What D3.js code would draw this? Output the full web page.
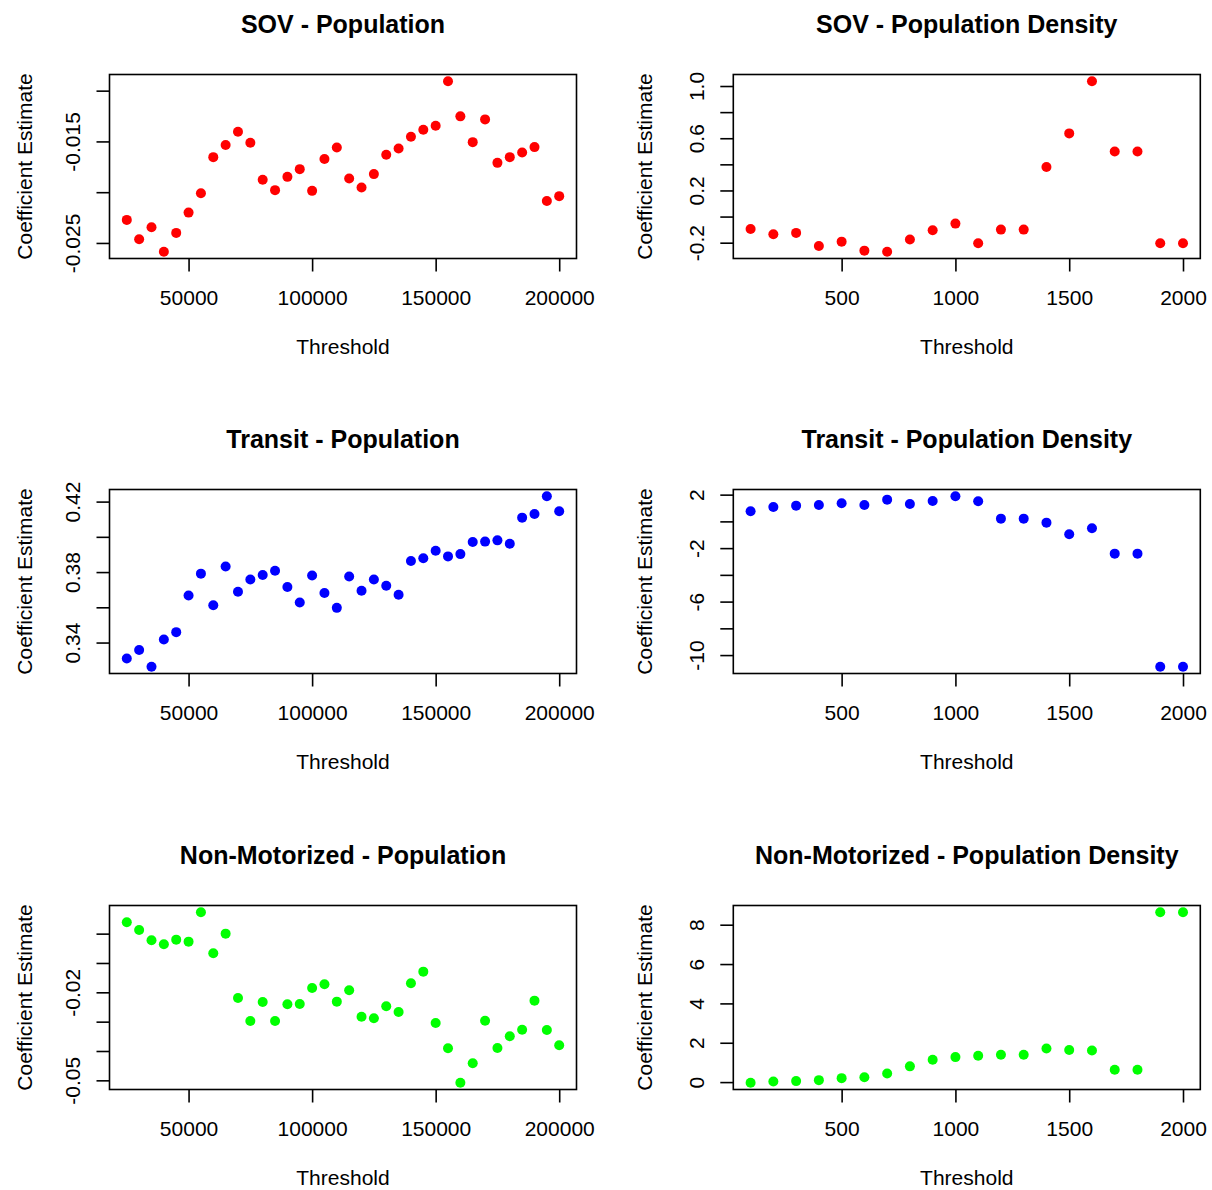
<!DOCTYPE html>
<html>
<head>
<meta charset="utf-8">
<script src="https://cdn.jsdelivr.net/npm/d3@7"></script>
<style>
  body { margin: 0; background: #fff; }
  text { font-family: "Liberation Sans", Arial, sans-serif; fill: #000; }
</style>
</head>
<body>
<svg id="chart" width="1212" height="1190"></svg>
<script>
// thresholds
const popThreshold = [25000, 30000, 35000, 40000, 45000, 50000, 55000, 60000, 65000, 70000,
  75000, 80000, 85000, 90000, 95000, 100000, 105000, 110000, 115000, 120000,
  125000, 130000, 135000, 140000, 145000, 150000, 155000, 160000, 165000, 170000,
  175000, 180000, 185000, 190000, 195000, 200000];
const densThreshold = [100, 200, 300, 400, 500, 600, 700, 800, 900, 1000,
  1100, 1200, 1300, 1400, 1500, 1600, 1700, 1800, 1900, 2000];
const popTicks = [50000, 100000, 150000, 200000];
const densTicks = [500, 1000, 1500, 2000];

// coefficient estimates
const sovPop = [-0.02273, -0.02464, -0.02345, -0.02586, -0.02401, -0.02201, -0.02010, -0.01655,
  -0.01536, -0.01405, -0.01513, -0.01878, -0.01980, -0.01849, -0.01773, -0.01987, -0.01674,
  -0.01559, -0.01865, -0.01954, -0.01822, -0.01632, -0.01569, -0.01454, -0.01385, -0.01345,
  -0.00908, -0.01253, -0.01507, -0.01283, -0.01711, -0.01655, -0.01609, -0.01556, -0.02086, -0.02039];
const sovDens = [-0.095, -0.136, -0.125, -0.225, -0.192, -0.261, -0.269, -0.176, -0.105, -0.054,
  -0.205, -0.100, -0.100, 0.379, 0.637, 1.036, 0.499, 0.499, -0.205, -0.205];
const transitPop = [0.3309, 0.3358, 0.3263, 0.3417, 0.3459, 0.3667, 0.3791, 0.3612, 0.3832, 0.3688,
  0.3758, 0.3783, 0.3808, 0.3715, 0.3627, 0.3781, 0.3681, 0.3597, 0.3775, 0.3694, 0.3758, 0.3722,
  0.3671, 0.3863, 0.3878, 0.3921, 0.3889, 0.3902, 0.3971, 0.3973, 0.3980, 0.3961, 0.4109, 0.4130,
  0.4230, 0.4145];
const transitDens = [0.753, 1.077, 1.177, 1.227, 1.352, 1.227, 1.626, 1.302, 1.526, 1.875, 1.501,
  0.204, 0.204, -0.095, -0.968, -0.519, -2.414, -2.414, -10.868, -10.868];
const nonmotPop = [0.00386, 0.00125, -0.00227, -0.00364, -0.00205, -0.00273, 0.00727, -0.00670,
  0.0000, -0.02193, -0.02977, -0.02330, -0.02977, -0.02409, -0.02398, -0.01852, -0.01727, -0.02318,
  -0.01932, -0.02830, -0.02886, -0.02477, -0.02670, -0.01693, -0.01295, -0.03045, -0.03909, -0.05080,
  -0.04420, -0.02966, -0.03898, -0.03500, -0.03273, -0.02284, -0.03284, -0.03807];
const nonmotDens = [-0.03, 0.03, 0.05, 0.10, 0.20, 0.25, 0.44, 0.80, 1.14, 1.27, 1.34, 1.39, 1.39,
  1.71, 1.63, 1.61, 0.63, 0.63, 8.63, 8.63];

// y ticks; blank label = tick drawn but label dropped (as in the original)
const sovPopTicks = [-0.025, -0.020, -0.015, -0.010];
const sovPopLabels = ["-0.025", "", "-0.015", ""];
const sovDensTicks = [-0.2, 0, 0.2, 0.4, 0.6, 0.8, 1.0];
const sovDensLabels = ["-0.2", "", "0.2", "", "0.6", "", "1.0"];
const transitPopTicks = [0.34, 0.36, 0.38, 0.40, 0.42];
const transitPopLabels = ["0.34", "", "0.38", "", "0.42"];
const transitDensTicks = [-10, -8, -6, -4, -2, 0, 2];
const transitDensLabels = ["-10", "", "-6", "", "-2", "", "2"];
const nonmotPopTicks = [-0.05, -0.04, -0.03, -0.02, -0.01, 0];
const nonmotPopLabels = ["-0.05", "", "", "-0.02", "", ""];
const nonmotDensTicks = [0, 2, 4, 6, 8];
const nonmotDensLabels = ["0", "2", "4", "6", "8"];

const panels = [
  { title: "SOV - Population", xs: popThreshold, ys: sovPop, xt: popTicks, yt: sovPopTicks, yl: sovPopLabels, color: "#ff0000", row: 0, col: 0 },
  { title: "SOV - Population Density", xs: densThreshold, ys: sovDens, xt: densTicks, yt: sovDensTicks, yl: sovDensLabels, color: "#ff0000", row: 0, col: 1 },
  { title: "Transit - Population", xs: popThreshold, ys: transitPop, xt: popTicks, yt: transitPopTicks, yl: transitPopLabels, color: "#0000ff", row: 1, col: 0 },
  { title: "Transit - Population Density", xs: densThreshold, ys: transitDens, xt: densTicks, yt: transitDensTicks, yl: transitDensLabels, color: "#0000ff", row: 1, col: 1 },
  { title: "Non-Motorized - Population", xs: popThreshold, ys: nonmotPop, xt: popTicks, yt: nonmotPopTicks, yl: nonmotPopLabels, color: "#00ff00", row: 2, col: 0 },
  { title: "Non-Motorized - Population Density", xs: densThreshold, ys: nonmotDens, xt: densTicks, yt: nonmotDensTicks, yl: nonmotDensLabels, color: "#00ff00", row: 2, col: 1 }
];

const colLeft = [109.5, 733.3];
const rowTop = [74.5, 489.5, 905.5];
const boxW = 467, boxH = 184;
const ylabX = [31.5, 652.3];

const svg = d3.select("#chart");

// R-style 4% padding of the data range
const padded = arr => {
  const [lo, hi] = d3.extent(arr);
  const r = hi - lo;
  return [lo - 0.04 * r, hi + 0.04 * r];
};

panels.forEach(p => {
  const left = colLeft[p.col], top = rowTop[p.row];
  const g = svg.append("g").attr("transform", `translate(${left},${top})`);

  const x = d3.scaleLinear().domain(padded(p.xs)).range([0, boxW]);
  const y = d3.scaleLinear().domain(padded(p.ys)).range([boxH, 0]);

  // points
  g.selectAll("circle")
    .data(p.xs.map((d, i) => [d, p.ys[i]]))
    .join("circle")
    .attr("cx", d => x(d[0]))
    .attr("cy", d => y(d[1]))
    .attr("r", 5)
    .attr("fill", p.color);

  // x axis
  const xa = g.append("g")
    .attr("transform", `translate(0,${boxH})`)
    .call(d3.axisBottom(x).tickValues(p.xt).tickSize(13).tickFormat(d3.format("d")));
  xa.select(".domain").remove();
  xa.selectAll("line").attr("stroke", "#000").attr("stroke-width", 1.6);
  xa.selectAll("text")
    .attr("y", 46.7).attr("dy", null)
    .style("font-size", "21px")
    .style("font-family", "'Liberation Sans', Arial, sans-serif");

  // y axis
  const ya = g.append("g")
    .call(d3.axisLeft(y).tickValues(p.yt).tickSize(13).tickFormat((d, i) => p.yl[i]));
  ya.select(".domain").remove();
  ya.selectAll("line").attr("stroke", "#000").attr("stroke-width", 1.6);
  ya.selectAll("text")
    .attr("x", null).attr("dy", null)
    .attr("text-anchor", "middle")
    .attr("transform", "translate(-29.5,0) rotate(-90)")
    .style("font-size", "21px")
    .style("font-family", "'Liberation Sans', Arial, sans-serif");

  // box
  g.append("rect")
    .attr("width", boxW).attr("height", boxH)
    .attr("fill", "none").attr("stroke", "#000").attr("stroke-width", 1.6);

  // titles
  svg.append("text")
    .attr("x", left + boxW / 2).attr("y", top - 41.5)
    .attr("text-anchor", "middle")
    .style("font-size", "25px").style("font-weight", "bold")
    .text(p.title);

  svg.append("text")
    .attr("x", left + boxW / 2).attr("y", top + boxH + 95.5)
    .attr("text-anchor", "middle")
    .style("font-size", "21px")
    .text("Threshold");

  svg.append("text")
    .attr("transform", `translate(${ylabX[p.col]},${top + boxH / 2}) rotate(-90)`)
    .attr("text-anchor", "middle")
    .style("font-size", "21px")
    .text("Coefficient Estimate");
});
</script>
</body>
</html>
